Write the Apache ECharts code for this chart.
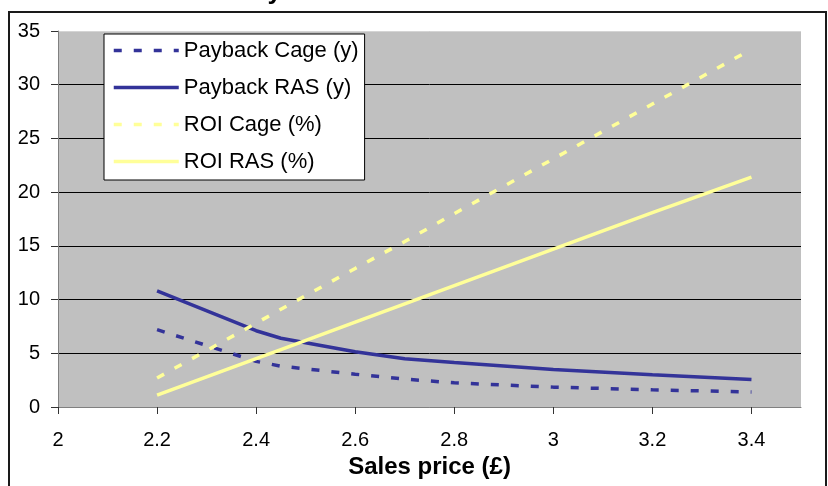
<!DOCTYPE html>
<html>
<head>
<meta charset="utf-8">
<script src="https://cdn.jsdelivr.net/npm/echarts@6/dist/echarts.min.js"></script>
<style>
  html, body { margin: 0; padding: 0; background: #ffffff; }
  #chart { width: 828px; height: 486px; }
</style>
</head>
<body>
<div id="chart"></div>
<script>
// Sales price (£) at which each scenario was evaluated
const salesPrice = [2.2, 2.4, 2.45, 2.6, 2.7, 2.8, 3.0, 3.2, 3.4];

// Payback period in years
const paybackCage = [7.2, 4.25, 3.8, 3.05, 2.6, 2.25, 1.85, 1.6, 1.4];
const paybackRAS  = [10.8, 7.1, 6.4, 5.15, 4.5, 4.15, 3.5, 3.0, 2.55];

// Return on investment in percent
const roiCage = [2.7, 7.8, 9.1, 12.9, 15.4, 18.0, 23.1, 28.2, 33.3];
const roiRAS  = [1.1, 4.5, 5.35, 7.9, 9.6, 11.3, 14.7, 18.1, 21.4];

// Axis ticks
const xTicks = [2, 2.2, 2.4, 2.6, 2.8, 3, 3.2, 3.4];

const seriesNames = ['Payback Cage (y)', 'Payback RAS (y)', 'ROI Cage (%)', 'ROI RAS (%)'];

const FONT = "'Liberation Sans', Arial, sans-serif";
const NAVY = '#333399';
const PALE_YELLOW = '#FFFF99';

const pairs = (ys) => salesPrice.map((x, i) => [x, ys[i]]);

const chart = echarts.init(document.getElementById('chart'), null, { renderer: 'canvas' });

chart.setOption({
  animation: false,
  backgroundColor: '#ffffff',
  textStyle: { fontFamily: FONT },
  graphic: [
    {
      type: 'rect',
      silent: true,
      shape: { x: 9, y: 12, width: 817, height: 520 },
      style: { fill: 'none', stroke: '#1a1a1a', lineWidth: 2 },
      z: 0
    },
    {
      type: 'text',
      silent: true,
      style: {
        text: 'Profitability',
        x: 139, y: -8,
        font: "bold 26px 'Liberation Sans', Arial, sans-serif",
        fill: '#000000',
        verticalAlign: 'middle'
      }
    }
  ],
  grid: {
    left: 58, right: 27, top: 31, bottom: 79,
    show: true,
    backgroundColor: '#C0C0C0',
    borderWidth: 0,
    containLabel: false,
    outerBoundsMode: 'none'
  },
  legend: {
    orient: 'vertical',
    left: 104,
    top: 34,
    padding: [5, 6, 7, 8],
    backgroundColor: '#ffffff',
    borderColor: '#000000',
    borderWidth: 1,
    borderRadius: 0,
    itemWidth: 65,
    itemHeight: 14,
    itemGap: 14,
    data: seriesNames,
    itemStyle: { opacity: 0 },
    lineStyle: { width: 3.5 },
    textStyle: { fontFamily: FONT, fontSize: 22, color: '#000000', lineHeight: 23 }
  },
  xAxis: {
    type: 'value',
    min: 2,
    max: 3.5,
    interval: 0.2,
    name: 'Sales price (£)',
    nameLocation: 'middle',
    nameGap: 48,
    nameTextStyle: { fontFamily: FONT, fontSize: 24, fontWeight: 'bold', color: '#000000' },
    axisLine: { show: true, onZero: false, lineStyle: { color: '#808080', width: 1 } },
    axisTick: { show: true, length: 7, inside: false, customValues: xTicks, lineStyle: { color: '#333333' } },
    axisLabel: {
      customValues: xTicks,
      fontFamily: FONT, fontSize: 20, color: '#000000', margin: 23,
      formatter: (v) => String(Math.round(v * 10) / 10)
    },
    splitLine: { show: false }
  },
  yAxis: {
    type: 'value',
    min: 0,
    max: 35,
    interval: 5,
    axisLine: { show: true, lineStyle: { color: '#808080', width: 1 } },
    axisTick: { show: true, length: 7, inside: false, lineStyle: { color: '#333333' } },
    axisLabel: { fontFamily: FONT, fontSize: 20, color: '#000000', margin: 18 },
    splitLine: {
      show: true,
      lineStyle: {
        width: 1,
        color: ['#808080', '#000000', '#000000', '#000000', '#000000', '#000000', '#000000', '#d4d4d4']
      }
    }
  },
  series: [
    {
      name: seriesNames[0],
      type: 'line',
      data: pairs(paybackCage),
      symbol: 'none',
      lineStyle: { color: NAVY, width: 3.5, type: [8, 12] },
      itemStyle: { color: NAVY }
    },
    {
      name: seriesNames[1],
      type: 'line',
      data: pairs(paybackRAS),
      symbol: 'none',
      lineStyle: { color: NAVY, width: 3.5, type: 'solid' },
      itemStyle: { color: NAVY }
    },
    {
      name: seriesNames[2],
      type: 'line',
      data: pairs(roiCage),
      symbol: 'none',
      lineStyle: { color: PALE_YELLOW, width: 3.5, type: [8, 12] },
      itemStyle: { color: PALE_YELLOW }
    },
    {
      name: seriesNames[3],
      type: 'line',
      data: pairs(roiRAS),
      symbol: 'none',
      lineStyle: { color: PALE_YELLOW, width: 3.5, type: 'solid' },
      itemStyle: { color: PALE_YELLOW }
    }
  ]
});
</script>
</body>
</html>
